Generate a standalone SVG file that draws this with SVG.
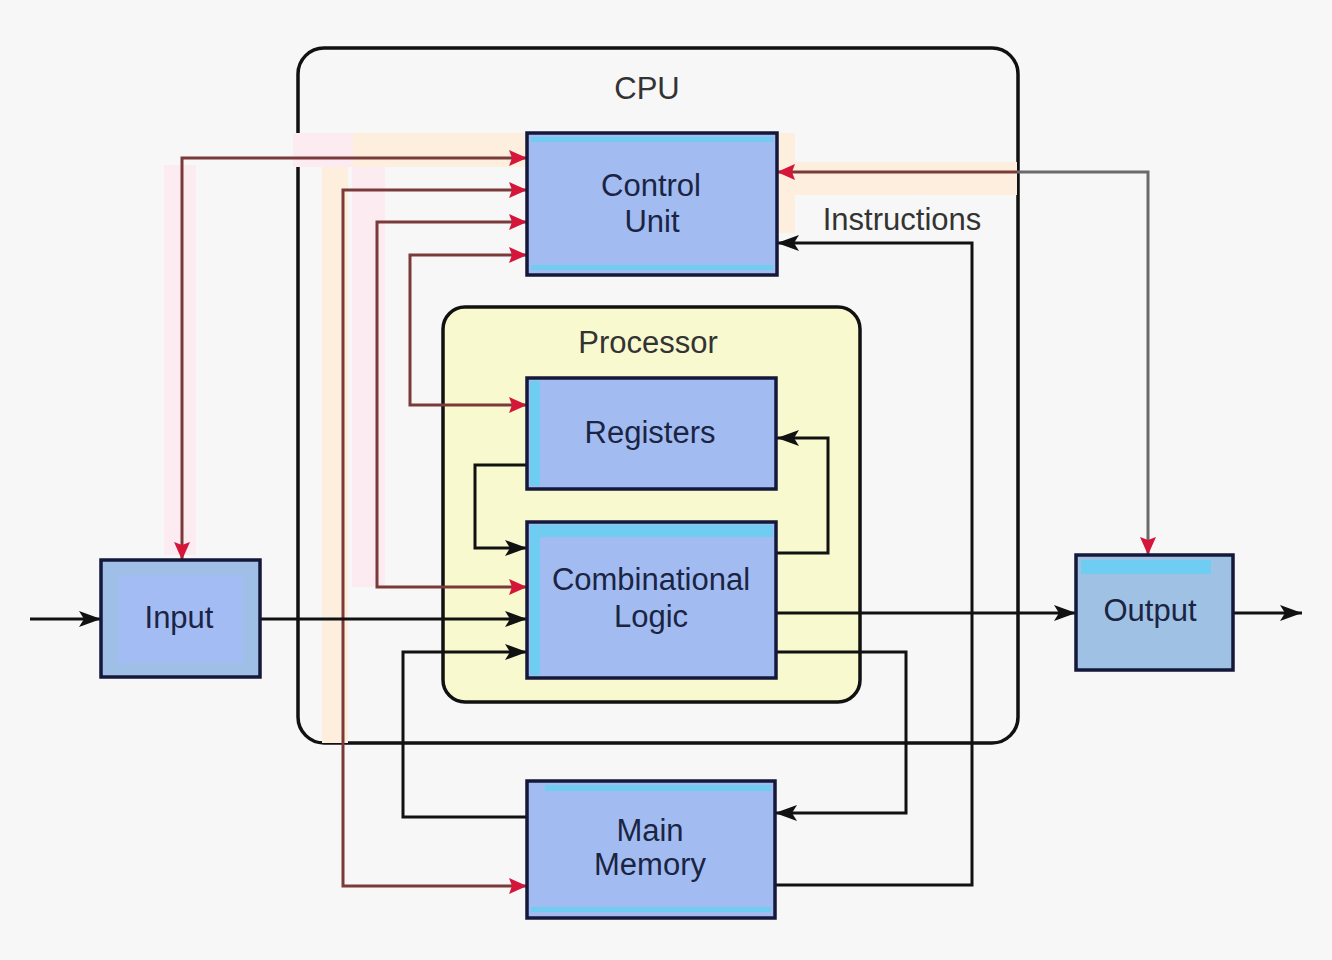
<svg xmlns="http://www.w3.org/2000/svg" width="1332" height="960" viewBox="0 0 1332 960">
<defs>
<style>
.bg{fill:#f7f7f7}
.band-o{fill:#fdeedd}
.band-p{fill:#fdebf2}
.cpu{fill:#f7f7f7;stroke:#111;stroke-width:3.5}
.proc{fill:#f9f9cf;stroke:#111;stroke-width:3.5}
.box{fill:#a2bcf2;stroke:#15183a;stroke-width:3.5}
.strip{fill:#6fcdf2}
.lbl{font-family:"Liberation Sans",Arial,sans-serif;font-size:31px;fill:#1b2443;text-anchor:middle}
.title{font-family:"Liberation Sans",Arial,sans-serif;font-size:31px;fill:#333;text-anchor:middle}
.w{fill:none;stroke:#111;stroke-width:3}
.r{fill:none;stroke:#7a3a3a;stroke-width:3}
.g{fill:none;stroke:#6a6a6a;stroke-width:3}
</style>
<marker id="ab" markerUnits="userSpaceOnUse" markerWidth="22" markerHeight="16" refX="22" refY="8" orient="auto-start-reverse">
<path d="M0,0 L22,8 L0,16 L5,8 z" fill="#111"/>
</marker>
<marker id="ar" markerUnits="userSpaceOnUse" markerWidth="18" markerHeight="16" refX="18" refY="8" orient="auto-start-reverse">
<path d="M0,0 L18,8 L0,16 L3,8 z" fill="#d5153a"/>
</marker>
</defs>
<rect class="bg" x="0" y="0" width="1332" height="960"/>

<g id="cpu">
<rect class="cpu" x="298" y="48" width="720" height="695" rx="26"/>
<text class="title" x="647" y="99">CPU</text>
</g>

<g id="bands">
<rect class="band-p" x="293" y="133" width="60" height="34"/>
<rect class="band-o" x="353" y="133" width="174" height="34"/>
<rect class="band-o" x="322" y="167" width="26" height="576"/>
<rect class="band-p" x="352" y="167" width="33" height="420"/>
<rect class="band-p" x="164" y="165" width="32" height="390"/>
<rect class="band-o" x="777" y="162" width="240" height="33"/>
<rect class="band-o" x="777" y="133" width="18" height="100"/>
</g>

<g id="processor">
<rect class="proc" x="443" y="307" width="417" height="395" rx="22"/>
<text class="title" x="648" y="353">Processor</text>
</g>

<g id="connectors">
<polyline class="r" points="527,158 182,158 182,560" marker-start="url(#ar)" marker-end="url(#ar)"/>
<polyline class="r" points="527,190 343,190 343,886 527,886" marker-start="url(#ar)" marker-end="url(#ar)"/>
<polyline class="r" points="527,222 377,222 377,587 527,587" marker-start="url(#ar)" marker-end="url(#ar)"/>
<polyline class="r" points="527,255 410,255 410,405 527,405" marker-start="url(#ar)" marker-end="url(#ar)"/>
<polyline class="r" points="1017,172 777,172" marker-end="url(#ar)"/>
<polyline class="g" points="1017,172 1148,172 1148,555" marker-end="url(#ar)"/>
<polyline class="w" points="30,619 101,619" marker-end="url(#ab)"/>
<polyline class="w" points="260,619 527,619" marker-end="url(#ab)"/>
<polyline class="w" points="777,613 1076,613" marker-end="url(#ab)"/>
<polyline class="w" points="1233,613 1302,613" marker-end="url(#ab)"/>
<polyline class="w" points="527,465 475,465 475,548 527,548" marker-end="url(#ab)"/>
<polyline class="w" points="777,553 828,553 828,438 777,438" marker-end="url(#ab)"/>
<polyline class="w" points="777,652 906,652 906,813 775,813" marker-end="url(#ab)"/>
<polyline class="w" points="527,817 403,817 403,652 527,652" marker-end="url(#ab)"/>
<polyline class="w" points="775,885 972,885 972,243 777,243" marker-end="url(#ab)"/>
<text class="title" x="902" y="230">Instructions</text>
</g>

<g id="control-unit">
<rect class="box" x="527" y="133" width="250" height="142"/>
<rect class="strip" x="531" y="137" width="242" height="5"/>
<rect class="strip" x="531" y="265" width="242" height="5"/>
<text class="lbl" x="651" y="196">Control</text>
<text class="lbl" x="652" y="232">Unit</text>
</g>

<g id="registers">
<rect class="box" x="527" y="378" width="249" height="111"/>
<rect class="strip" x="530" y="381" width="10" height="105"/>
<text class="lbl" x="650" y="443">Registers</text>
</g>

<g id="combinational-logic">
<rect class="box" x="527" y="522" width="249" height="156"/>
<rect class="strip" x="530" y="525" width="10" height="150"/>
<rect class="strip" x="540" y="525" width="233" height="12"/>
<text class="lbl" x="651" y="590">Combinational</text>
<text class="lbl" x="651" y="627">Logic</text>
</g>

<g id="input">
<rect class="box" x="101" y="560" width="159" height="117" style="fill:#9fbfe6"/>
<rect x="118" y="575" width="125" height="88" fill="#a4bcf4"/>
<text class="lbl" x="179" y="628">Input</text>
</g>

<g id="output">
<rect class="box" x="1076" y="555" width="157" height="115" style="fill:#9fc1e3"/>
<rect class="strip" x="1081" y="560" width="130" height="14"/>
<text class="lbl" x="1150" y="621">Output</text>
</g>

<g id="main-memory">
<rect class="box" x="527" y="781" width="248" height="137"/>
<rect class="strip" x="545" y="785" width="226" height="6"/>
<rect class="strip" x="531" y="907" width="240" height="5"/>
<text class="lbl" x="650" y="841">Main</text>
<text class="lbl" x="650" y="875">Memory</text>
</g>
</svg>
